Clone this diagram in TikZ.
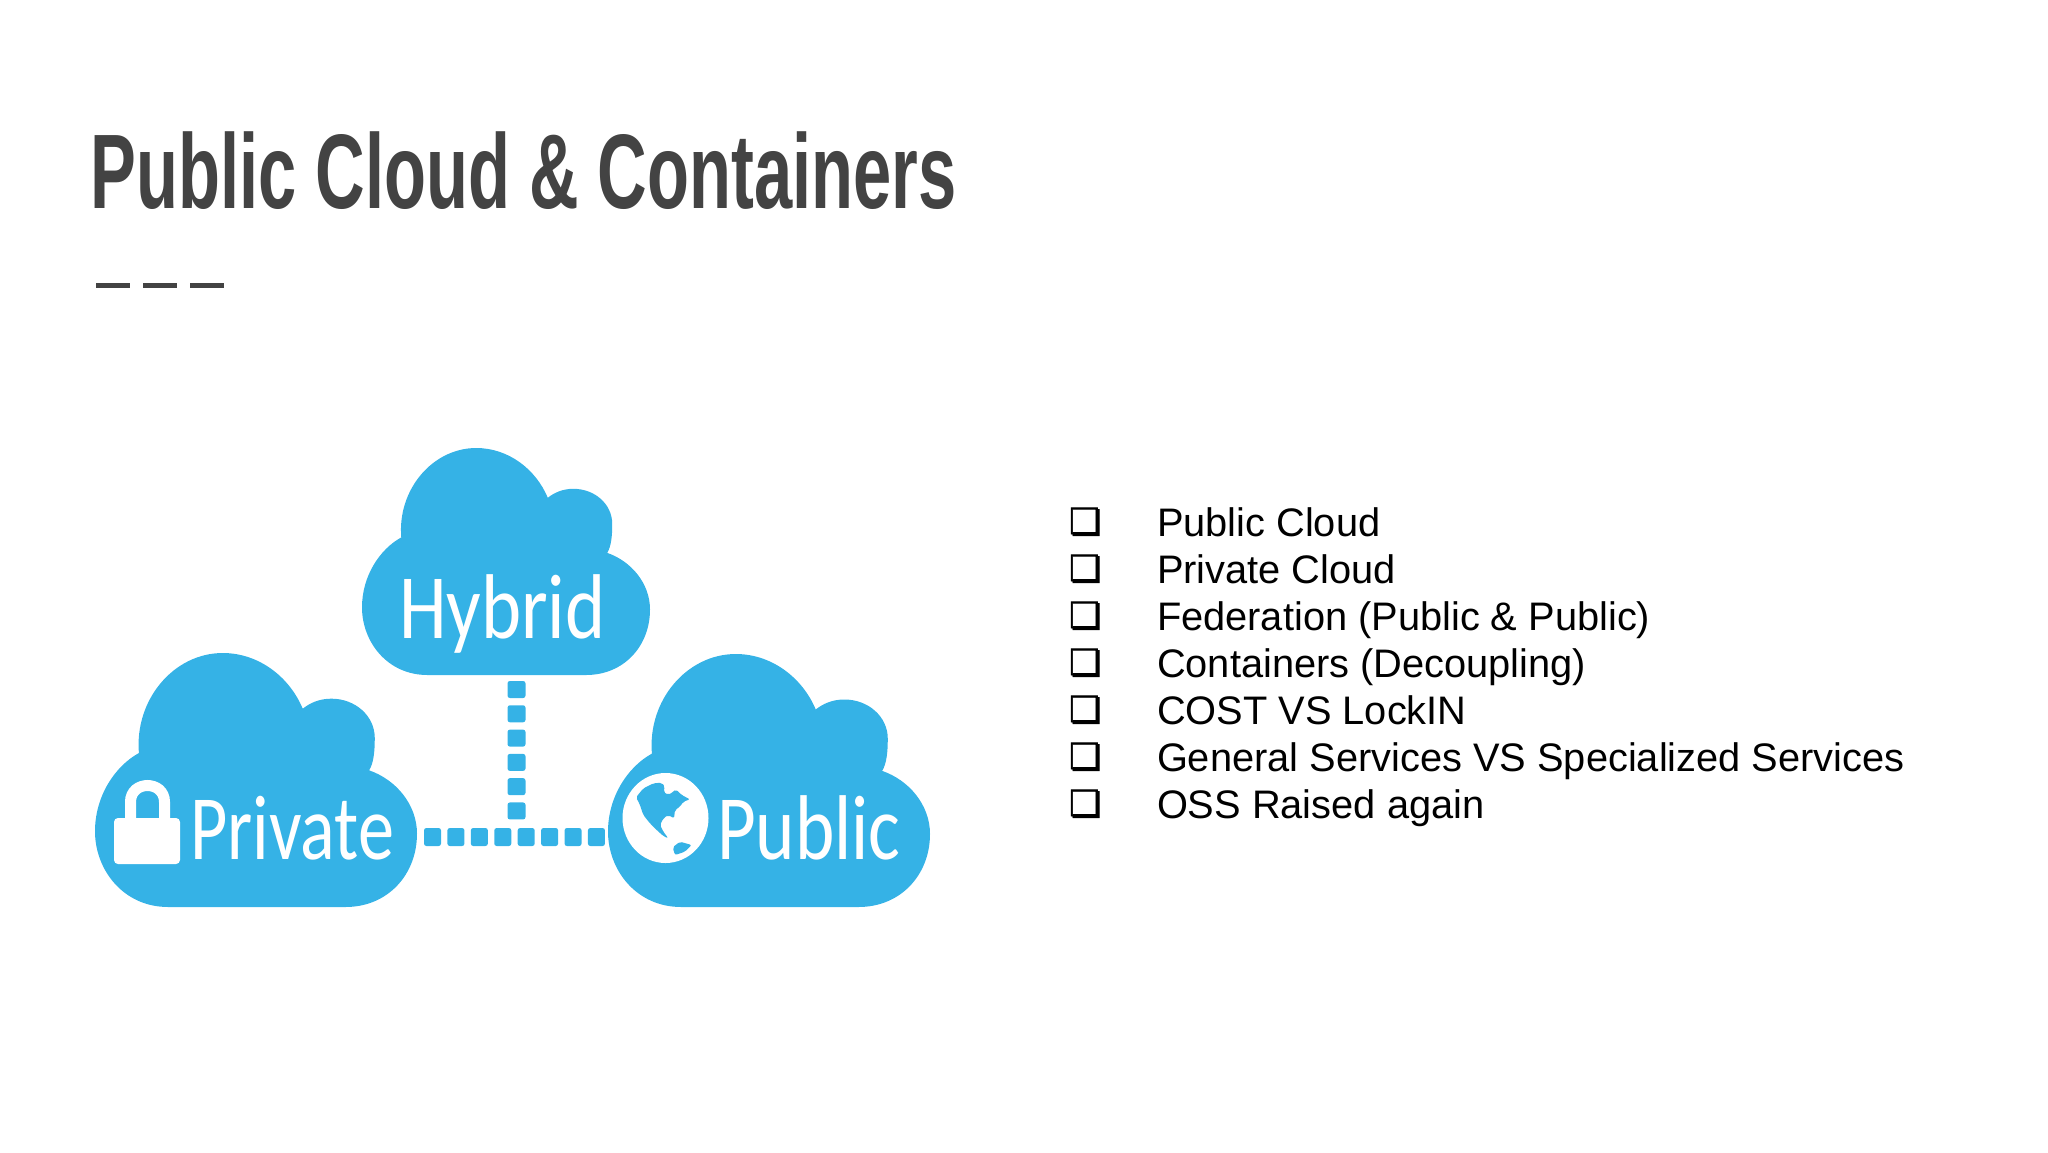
\documentclass[tikz,border=0pt]{standalone}
\usepackage{fontspec}
\usetikzlibrary{decorations.markings}
\setmainfont{Liberation Sans}
\newfontfamily\titlefont[FakeStretch=0.648]{Liberation Sans}
\newfontfamily\cloudfont{Carlito}
\newfontfamily\symfont[FakeBold=2]{DejaVu Sans}
\definecolor{cloudblue}{HTML}{35B2E6}
\definecolor{titlegrey}{HTML}{434343}
\tikzset{
  cloudfill/.style={fill=cloudblue,draw=none},
  cloudlabel/.style={anchor=base west,inner sep=0pt,outer sep=0pt,text=white,transform shape,font=\cloudfont\fontsize{46}{46}\selectfont},
  linkline/.style={postaction={decorate},decoration={markings,mark=between positions 0 and 1 step #1 with {\fill[cloudblue,rounded corners=1.2pt] (-8.5,-9) rectangle (8.5,9);}}},
  itemtext/.style={anchor=base west,inner sep=0pt,outer sep=0pt,text=black,font=\fontsize{19.9}{23}\selectfont},
  itemmark/.style={anchor=base west,inner sep=0pt,outer sep=0pt,text=black,font=\symfont\fontsize{18}{20}\selectfont},
}
\newcommand{\cloudshape}[4]{% x y w h
  \begin{scope}[shift={(#1,#2)},xscale=#3/572,yscale=#4/762]
    \fill[cloudfill] (130,762)
      .. controls (50,762) and (0,650) .. (0,535)
      .. controls (0,430) and (35,340) .. (78,300)
      .. controls (70,140) and (140,0) .. (227,0)
      .. controls (290,0) and (345,70) .. (369,167)
      .. controls (382,150) and (398,137) .. (420,137)
      .. controls (462,137) and (497,188) .. (497,255)
      .. controls (497,295) and (495,330) .. (487,352)
      .. controls (535,380) and (572,455) .. (572,542)
      .. controls (572,665) and (520,762) .. (445,762) -- cycle;
  \end{scope}}
\begin{document}
\begin{tikzpicture}[x=0.5pt,y=-0.5pt]
\useasboundingbox (0,0) rectangle (2048,1152);
% title
\node[anchor=base west,inner sep=0pt,text=titlegrey,font=\titlefont\bfseries\fontsize{53}{53}\selectfont] (title) at (90,208) {Public Cloud \& Containers};
\coordinate (rs) at (96,285.5);
\coordinate (re) at (224,285.5);
\draw[titlegrey,line width=2.4pt,dash pattern=on 17pt off 6.5pt] (rs) -- (re);
% clouds
\cloudshape{362}{448}{288}{227}
\cloudshape{95}{653}{322}{254}
\cloudshape{608}{654}{322}{253}
% connectors
\coordinate (hb) at (516.5,689.5);
\coordinate (hj) at (516.5,811);
\coordinate (pr) at (432.5,837);
\coordinate (ur) at (596.5,837);
\path[linkline=0.1999] (hb) -- (hj);
\path[linkline=0.1428] (pr) -- (ur);
% labels
\node[cloudlabel,xscale=.83] (hybrid) at (399,638) {Hybrid};
\node[cloudlabel,xscale=.785] (private) at (190,859) {Private};
\node[cloudlabel,xscale=.815] (public) at (717,859) {Public};
% lock
\draw[white,line width=5.5pt] (130.5,825) -- (130.5,802) .. controls (130.5,780) and (164.5,780) .. (164.5,802) -- (164.5,825);
\fill[white,rounded corners=2pt] (114,818) rectangle (180,864);
% globe
\fill[white] (665.5,818) ellipse [x radius=43,y radius=45];
\begin{scope}[shift={(600,760)},xscale=1/3,yscale=1/3]
\fill[cloudblue,rounded corners=1pt] (108,112) -- (130,85) -- (160,70) -- (185,68) -- (195,80) -- (190,95) -- (205,105) -- (220,95) -- (228,88) -- (245,105) -- (270,118) -- (250,125) -- (240,140) -- (225,150) -- (222,175) -- (205,165) -- (190,175) -- (180,195) -- (190,215) -- (205,235) -- (190,228) -- (170,210) -- (150,190) -- (130,165) -- (118,130) -- cycle;
\fill[cloudblue,rounded corners=1pt] (218,262) -- (240,245) -- (275,255) -- (255,275) -- (225,285) -- cycle;
\end{scope}
% list
\foreach \n/\t [count=\i from 0] in {a/Public Cloud,b/Private Cloud,c/Federation (Public \& Public),d/Containers (Decoupling),e/COST VS LockIN,f/General Services VS Specialized Services,g/OSS Raised again}{
  \node[itemmark] (m\n) at (1069,534+47*\i) {❏};
  \node[itemtext] (t\n) at (1157,536+47*\i) {\t};
}
\end{tikzpicture}
\end{document}
